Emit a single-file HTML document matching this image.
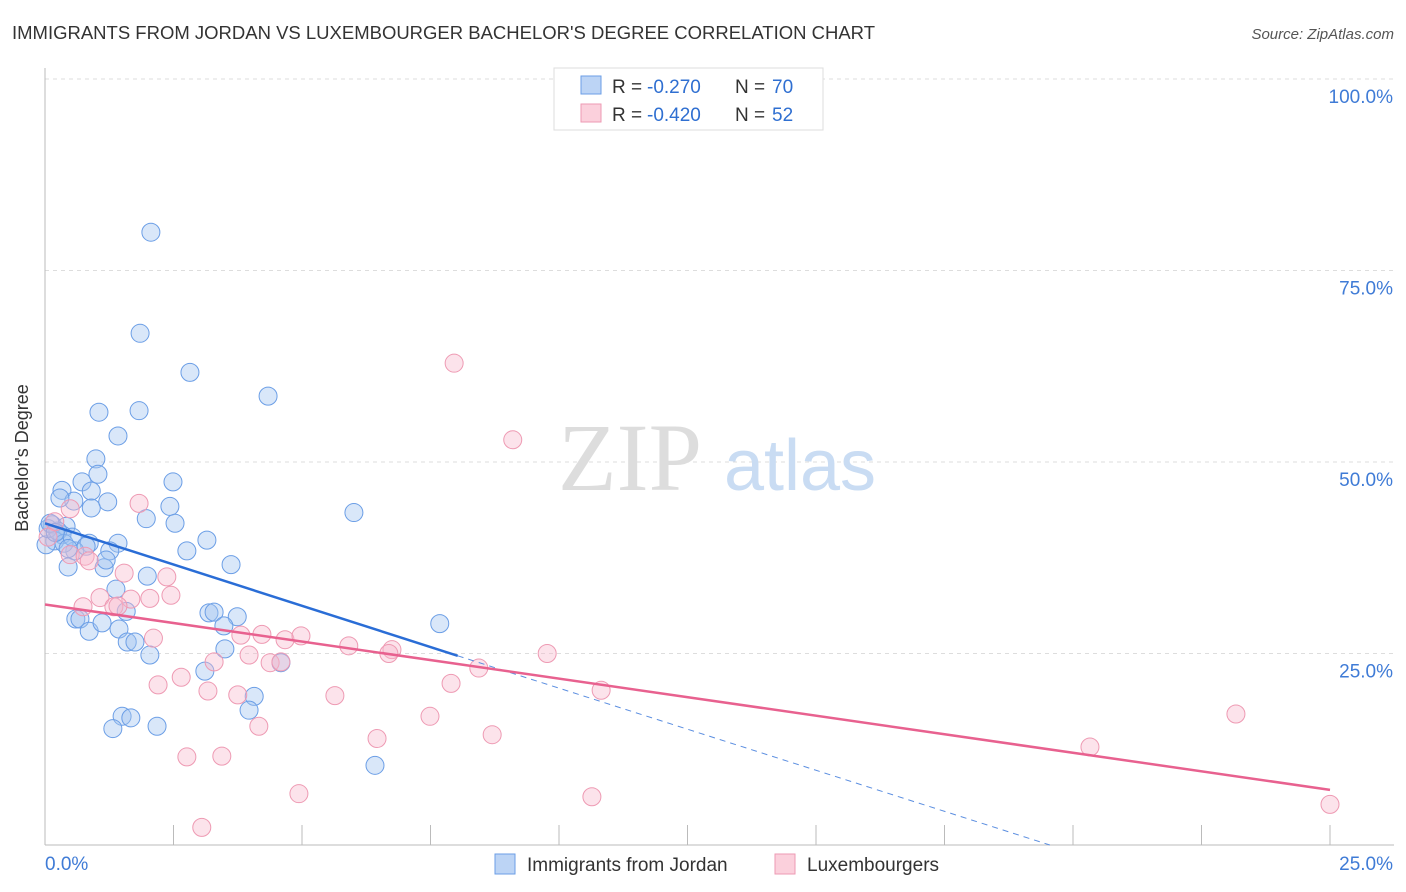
<!DOCTYPE html>
<html><head><meta charset="utf-8"><style>
body{margin:0;background:#fff;font-family:"Liberation Sans",sans-serif;}
svg{display:block}
</style></head><body>
<svg width="1406" height="892">
<text x="12" y="39" font-size="18" fill="#333" textLength="863" lengthAdjust="spacingAndGlyphs">IMMIGRANTS FROM JORDAN VS LUXEMBOURGER BACHELOR'S DEGREE CORRELATION CHART</text>
<text x="1394" y="39" font-size="15" fill="#555" font-style="italic" text-anchor="end">Source: ZipAtlas.com</text>
<g id="grid"></g>
<text x="630" y="490" font-size="96" fill="#ddd" font-family="Liberation Serif" text-anchor="middle">ZIP</text>
<text x="800" y="490" font-size="72" fill="#c9dcf3" text-anchor="middle">atlas</text>
<g id="pts"></g>
<g id="lines"></g>
<text x="28" y="458" font-size="18" fill="#333" text-anchor="middle" transform="rotate(-90 28 458)">Bachelor's Degree</text>
<g>
<rect x="554" y="68" width="269" height="62" fill="#fff" stroke="#ddd"/>
<rect x="581" y="76" width="20" height="18" fill="#bcd4f5" stroke="#6b9ee6"/>
<rect x="581" y="104" width="20" height="18" fill="#fbd0dc" stroke="#ee9ab3"/>
<text x="612" y="93" font-size="19" fill="#333">R =</text>
<text x="647" y="93" font-size="19" fill="#2f6fd1">-0.270</text>
<text x="735" y="93" font-size="19" fill="#333">N =</text>
<text x="772" y="93" font-size="19" fill="#2f6fd1">70</text>
<text x="612" y="121" font-size="19" fill="#333">R =</text>
<text x="647" y="121" font-size="19" fill="#2f6fd1">-0.420</text>
<text x="735" y="121" font-size="19" fill="#333">N =</text>
<text x="772" y="121" font-size="19" fill="#2f6fd1">52</text>
</g>
<g>
<rect x="495" y="854" width="20" height="20" fill="#bcd4f5" stroke="#6b9ee6"/>
<text x="527" y="871" font-size="19" fill="#333">Immigrants from Jordan</text>
<rect x="775" y="854" width="20" height="20" fill="#fbd0dc" stroke="#ee9ab3"/>
<text x="807" y="871" font-size="19" fill="#333">Luxembourgers</text>
</g>
</svg>
<script>
const yTicks=[25,50,75,100];
const yTickLabels=["25.0%","50.0%","75.0%","100.0%"];
const xTicks=[0,2.5,5,7.5,10,12.5,15,17.5,20,22.5,25];
const jordanX=[2.06,1.85,2.82,4.34,1.05,1.83,1.42,0.99,1.03,2.49,0.33,0.72,0.90,0.56,0.29,1.22,0.90,2.43,1.97,2.53,6.01,0.14,0.41,0.33,0.19,0.02,1.42,3.15,2.76,0.86,1.26,0.58,0.45,1.15,1.19,3.62,1.99,1.38,1.58,3.19,3.29,3.74,3.48,0.60,0.68,0.86,1.11,1.44,1.60,1.75,2.04,3.50,4.59,3.11,4.07,3.97,1.50,1.67,1.32,2.18,6.42,7.68,0.06,0.25,0.37,0.53,0.10,0.80,0.20,0.45];
const jordanY=[80.0,66.8,61.7,58.6,56.5,56.7,53.4,50.4,48.4,47.4,46.3,47.4,46.2,44.9,45.3,44.8,44.0,44.2,42.6,42.0,43.4,41.8,41.6,40.5,39.7,39.2,39.4,39.8,38.4,39.4,38.4,38.4,36.3,36.2,37.2,36.6,35.1,33.4,30.5,30.3,30.4,29.8,28.6,29.5,29.5,27.9,29.0,28.2,26.5,26.5,24.8,25.6,23.8,22.7,19.4,17.6,16.8,16.6,15.2,15.5,10.4,28.9,41.3,41.0,39.4,40.2,42.0,39.0,40.8,38.7];
const luxX=[7.96,9.10,1.83,0.49,0.19,0.06,0.49,0.78,0.86,1.54,2.37,1.07,0.74,1.34,1.67,2.04,2.45,3.81,4.22,2.11,4.67,4.98,5.91,6.75,6.69,3.97,4.38,4.59,3.29,8.44,9.77,10.82,2.65,2.20,3.17,3.75,5.64,7.90,7.49,4.16,6.46,8.70,2.76,3.44,23.17,20.33,4.94,10.64,3.05,25.00,1.42];
const luxY=[62.9,52.9,44.6,43.9,42.2,40.2,37.9,37.7,37.1,35.5,35.0,32.3,31.1,31.1,32.1,32.2,32.6,27.4,27.5,27.0,26.8,27.3,26.0,25.5,25.0,24.8,23.8,23.9,23.9,23.1,25.0,20.2,21.9,20.9,20.1,19.6,19.5,21.1,16.8,15.5,13.9,14.4,11.5,11.6,17.1,12.8,6.7,6.3,2.3,5.3,31.2];
const jordanTrend=[[0,42.0],[8.03,24.7]];
const jordanTrendExt=[[8.03,24.7],[19.55,0]];
const luxTrend=[[0,31.4],[25,7.2]];
const X0=45,X1=1330,YTOP=79,YBOT=845;
const xs=v=>X0+(v/25)*(X1-X0);
const ys=v=>YBOT-(v/100)*(YBOT-YTOP);
const NS="http://www.w3.org/2000/svg";
function mk(tag,attrs,parent){const e=document.createElementNS(NS,tag);for(const k in attrs)e.setAttribute(k,attrs[k]);parent.appendChild(e);return e;}
const grid=document.getElementById('grid');
yTicks.forEach((t,i)=>{
 const l=mk('line',{x1:X0,x2:1394,y1:ys(t),y2:ys(t),stroke:'#ddd','stroke-dasharray':'4,4'},grid);
 
 
 const tx=mk('text',{x:1393,y:ys(t)+24,'font-size':19,fill:'#3f7bd6','text-anchor':'end'},grid);
 tx.textContent=yTickLabels[i];
 
 
});
const ax=mk('line',{x1:X0,x2:X0,y1:68,y2:YBOT,stroke:'#bbb'},grid);


const bx=mk('line',{x1:X0,x2:1394,y1:YBOT,y2:YBOT,stroke:'#bbb'},grid);


xTicks.forEach(t=>{
 const l=mk('line',{x1:xs(t),x2:xs(t),y1:YBOT,y2:825,stroke:'#bbb'},grid);
 
 
});
[["0.0%",45,'start'],["25.0%",1393,'end']].forEach(a=>{
 const t=mk('text',{x:a[1],y:870,'font-size':19,fill:'#3f7bd6','text-anchor':a[2]},grid);
 t.textContent=a[0];
 
 
});
const pts=document.getElementById('pts');
jordanX.forEach((v,i)=>{
 const c=mk('circle',{cx:xs(v),cy:ys(jordanY[i]),r:9,fill:'rgba(160,195,240,0.4)',stroke:'#6b9ee6','stroke-width':1},pts);
 
 
});
luxX.forEach((v,i)=>{
 const c=mk('circle',{cx:xs(v),cy:ys(luxY[i]),r:9,fill:'rgba(248,185,205,0.4)',stroke:'#ee9ab3','stroke-width':1},pts);
 
 
});
const lines=document.getElementById('lines');
function seg(p,attrs,name){const l=mk('line',Object.assign({x1:xs(p[0][0]),y1:ys(p[0][1]),x2:xs(p[1][0]),y2:ys(p[1][1])},attrs),lines);}
seg(jordanTrend,{stroke:'#2a6dd6','stroke-width':2.5},'jordan-trendline');
seg(jordanTrendExt,{stroke:'#5b8ee0','stroke-width':1,'stroke-dasharray':'6,5'},'jordan-trendline-extension');
seg(luxTrend,{stroke:'#e8618f','stroke-width':2.5},'luxembourger-trendline');
</script>
</body></html>
